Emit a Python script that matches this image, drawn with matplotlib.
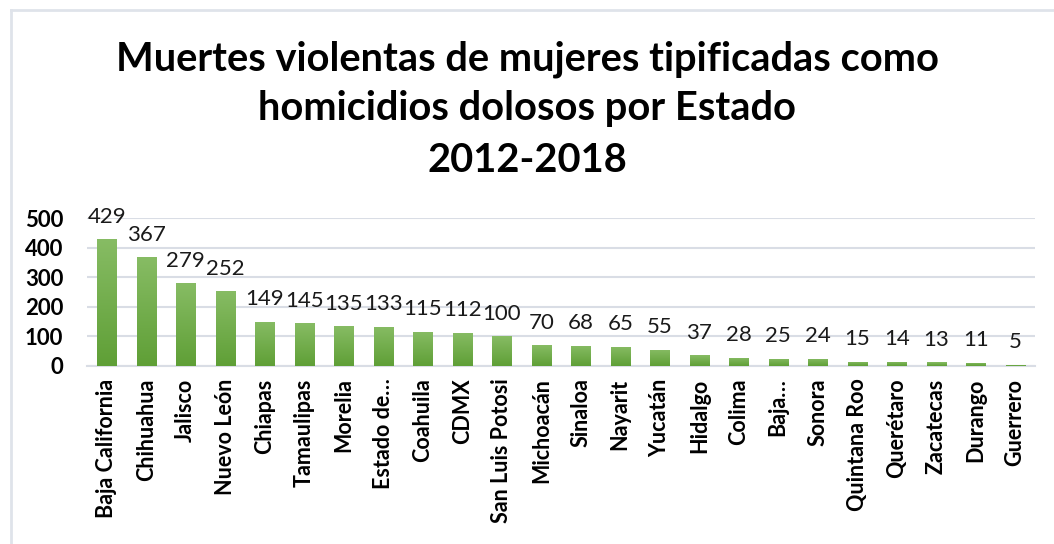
import numpy as np
import matplotlib
matplotlib.use("Agg")
import matplotlib.pyplot as plt
from matplotlib.lines import Line2D

# ========= Data =========
estados = ["Baja California", "Chihuahua", "Jalisco", "Nuevo León", "Chiapas",
           "Tamaulipas", "Morelia", "Estado de…", "Coahuila", "CDMX",
           "San Luis Potosi", "Michoacán", "Sinaloa", "Nayarit", "Yucatán",
           "Hidalgo", "Colima", "Baja…", "Sonora", "Quintana Roo",
           "Querétaro", "Zacatecas", "Durango", "Guerrero"]
muertes = [429, 367, 279, 252, 149, 145, 135, 133, 115, 112, 100, 70, 68,
           65, 55, 37, 28, 25, 24, 15, 14, 13, 11, 5]
yticks = [0, 100, 200, 300, 400, 500]
titulo = ["Muertes violentas de mujeres tipificadas como",
          "homicidios dolosos por Estado",
          "2012-2018"]

plt.rcParams["font.family"] = ["Lato", "DejaVu Sans"]

W, H = 1054, 544
fig = plt.figure(figsize=(W / 100, H / 100), dpi=100)

# ========= Axes placement =========
left, right, top, bottom = 87, 1035, 218, 366
ax = fig.add_axes([left / W, 1 - bottom / H, (right - left) / W, (bottom - top) / H])

grid_col = "#d9dde5"
x = np.arange(len(estados))
bars = ax.bar(x, muertes, width=0.49, color="#70ad47", zorder=2)

# vertical gradient on each bar
grad = np.linspace(0, 1, 256).reshape(-1, 1)
cmap = matplotlib.colors.LinearSegmentedColormap.from_list("g", ["#5f9f36", "#87bc64"])
for b in bars:
    bx, by = b.get_x(), b.get_y()
    bw, bh = b.get_width(), b.get_height()
    im = ax.imshow(grad, cmap=cmap, origin="lower", aspect="auto",
                   extent=[bx, bx + bw, by, by + bh], zorder=3)
    im.set_clip_path(b)

# value labels above bars
for xi, v in zip(x, muertes):
    ax.annotate(str(v), (xi, v), xytext=(0, 9), textcoords="offset points",
                ha="center", va="bottom", fontsize=16, color="#1a1a1a")

ax.set_xlim(-0.5, len(estados) - 0.5)
ax.set_ylim(0, 500)
ax.set_yticks(yticks)
ax.set_yticklabels([str(t) for t in yticks], fontsize=16, fontweight="bold")
ax.set_xticks(x)
ax.set_xticklabels(estados, rotation=90, fontsize=15.5, fontweight="bold")
ax.tick_params(length=0, pad=9)
ax.tick_params(axis="y", pad=17)
ax.grid(axis="y", color=grid_col, linewidth=1.5, zorder=0)
for s in ["top", "right", "left"]:
    ax.spines[s].set_visible(False)
ax.spines["bottom"].set_color(grid_col)
ax.spines["bottom"].set_linewidth(1.5)

# title, one line at a time
for linea, base in zip(titulo, [70, 120, 172]):
    fig.text(0.5, 1 - base / H, linea, ha="center", va="baseline", fontsize=28.7,
             fontweight="bold", color="black")

# chart frame (left and top edges visible)
fig.add_artist(Line2D([10.5 / W, 10.5 / W], [0, 1 - 9.5 / H], color="#dfe3ea", linewidth=2))
fig.add_artist(Line2D([10.5 / W, 1], [1 - 9.5 / H, 1 - 9.5 / H], color="#dfe3ea", linewidth=2))

fig.savefig("out.png", dpi=100)
